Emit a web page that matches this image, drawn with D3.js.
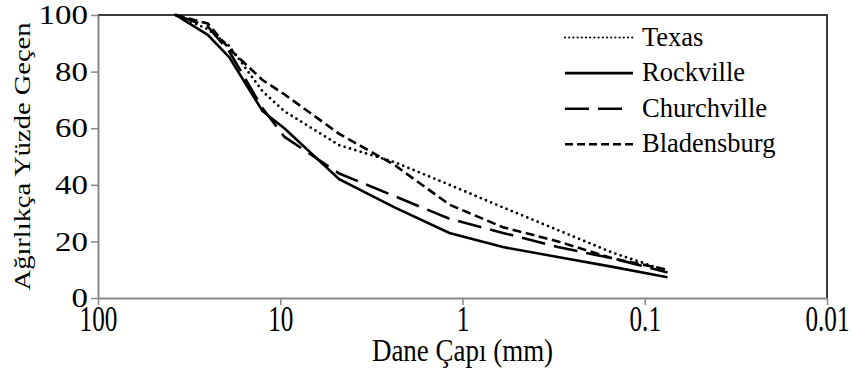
<!DOCTYPE html>
<html>
<head>
<meta charset="utf-8">
<script src="https://cdn.jsdelivr.net/npm/d3@7"></script>
<style>
  body { margin: 0; background: #fff; }
</style>
</head>
<body>
<div id="chart"></div>
<script>
// sieve sizes (mm) and percent passing
const sizes = [37.5, 25, 19, 12.5, 9.5, 4.75, 2.36, 1.18, 0.6, 0.3, 0.15, 0.075];
const texas = [100, 95, 89, 73, 66, 54, 48, 40, 32, 24, 16, 9.5];
const rockville = [100, 93, 85, 66, 60, 42, 32, 23, 18, 14.5, 11, 7.3];
const churchville = [100, 96, 87, 67, 57, 44, 36, 28, 23, 18, 14, 9];
const bladensburg = [100, 97, 88, 77, 72, 58, 47, 33, 25, 20, 14, 10];
const seriesNames = ["Texas", "Rockville", "Churchville", "Bladensburg"];
const xTicks = [100, 10, 1, 0.1, 0.01];
const yTicks = [0, 20, 40, 60, 80, 100];

const FONT = "Liberation Serif";
const W = 852, H = 371;
const margin = {top: 15, right: 25, bottom: 73, left: 98};
const width = W - margin.left - margin.right;
const height = H - margin.top - margin.bottom;

const dashes = {
  Texas: "0,5.6",
  Rockville: null,
  Churchville: "24,9",
  Bladensburg: "9,4.5"
};

const svg = d3.select("#chart")
  .append("svg")
  .attr("width", W)
  .attr("height", H)
  .attr("font-family", FONT)
  .append("g")
  .attr("transform", "translate(" + margin.left + "," + margin.top + ")");

const x = d3.scaleLog()
  .domain([100, 0.01])
  .range([0, width]);
const y = d3.scaleLinear()
  .domain([0, 100])
  .range([height, 0]);

// top and right frame
svg.append("path")
  .attr("d", "M0,0H" + width + "V" + height)
  .attr("fill", "none")
  .attr("stroke", "#3a3a3a")
  .attr("stroke-width", 2);

// X axis (labels are tall and narrow in the original)
const xAxis = svg.append("g")
  .attr("transform", "translate(0," + height + ")")
  .call(d3.axisBottom(x).tickValues(xTicks).tickSize(7).tickSizeOuter(0)
    .tickFormat(d => String(d)));
xAxis.attr("font-family", FONT).attr("font-size", 35);
xAxis.select(".domain").attr("stroke", "#888").attr("stroke-width", 2);
xAxis.selectAll(".tick line").attr("stroke", "#888").attr("stroke-width", 1.5);
xAxis.selectAll("text")
  .attr("fill", "#000")
  .attr("dy", null)
  .attr("y", 33)
  .attr("transform", "scale(0.72,1)");

// Y axis
const yAxis = svg.append("g")
  .call(d3.axisLeft(y).tickValues(yTicks).tickSize(7).tickSizeOuter(0));
yAxis.attr("font-family", FONT).attr("font-size", 27);
yAxis.select(".domain").attr("stroke", "#888").attr("stroke-width", 2);
yAxis.selectAll(".tick line").attr("stroke", "#888").attr("stroke-width", 1.5);
yAxis.selectAll("text")
  .attr("fill", "#000")
  .attr("x", -8.2)
  .attr("transform", "scale(1.22,1)");

// axis titles
svg.append("text")
  .attr("transform", "translate(" + (width / 2) + "," + (height + 63) + ") scale(0.87,1)")
  .attr("text-anchor", "middle")
  .attr("font-family", FONT)
  .attr("font-size", 31)
  .text("Dane Çapı (mm)");

svg.append("text")
  .attr("transform", "translate(" + (-68) + "," + (height / 2) + ") rotate(-90) scale(1,0.82)")
  .attr("text-anchor", "middle")
  .attr("font-family", FONT)
  .attr("font-size", 28.5)
  .text("Ağırlıkça Yüzde Geçen");

// lines
const allSeries = [texas, rockville, churchville, bladensburg];
const line = d3.line()
  .x((d, i) => x(sizes[i]))
  .y(d => y(d));

seriesNames.forEach((name, k) => {
  svg.append("path")
    .datum(allSeries[k])
    .attr("fill", "none")
    .attr("stroke", "#000")
    .attr("stroke-width", name === "Texas" ? 2.8 : 2.6)
    .attr("stroke-linecap", name === "Texas" ? "round" : "butt")
    .attr("stroke-dasharray", dashes[name])
    .attr("d", line);
});

// legend
const legend = svg.append("g")
  .attr("transform", "translate(" + (565 - margin.left) + "," + (37.5 - margin.top) + ")");
seriesNames.forEach((name, k) => {
  const g = legend.append("g").attr("transform", "translate(0," + (k * 35.6) + ")");
  g.append("line")
    .attr("x1", 0).attr("x2", name === "Churchville" ? 58 : 68)
    .attr("y1", 0).attr("y2", 0)
    .attr("stroke", "#000")
    .attr("stroke-width", name === "Texas" ? 2.2 : 2.6)
    .attr("stroke-linecap", name === "Texas" ? "round" : "butt")
    .attr("stroke-dasharray", name === "Texas" ? "0,4.2" : name === "Bladensburg" ? "8,4" : dashes[name]);
  g.append("text")
    .attr("x", 77)
    .attr("y", 8)
    .attr("font-family", FONT)
    .attr("font-size", 26.5)
    .text(name);
});
</script>
</body>
</html>
